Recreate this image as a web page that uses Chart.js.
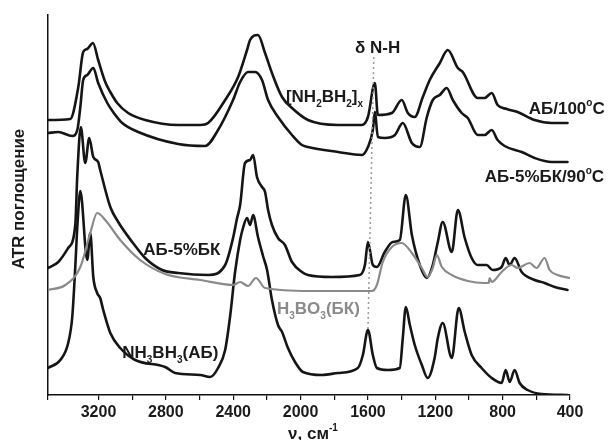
<!DOCTYPE html>
<html><head><meta charset="utf-8">
<script src="https://cdn.jsdelivr.net/npm/chart.js@4/dist/chart.umd.min.js"></script>
<style>html,body{margin:0;padding:0;background:#fff;}#wrap{width:613px;height:440px;}</style>
</head><body><div id="wrap"><canvas id="c" width="613" height="440"></canvas></div>
<script>
// ---- data: [wavenumber (cm-1), ATR absorbance (offset, arb. units)] ----
const xTickLabels = [3200, 2800, 2400, 2000, 1600, 1200, 800, 400];

const ab100 = [[3500,275],[3368,276],[3320,308],[3291,343],[3267,346],[3233,352],[3202,335],[3160,313],[3130,303],[3089,292],[3024,282],[2923,275],[2727,270],[2596,270],[2549,272],[2448,295],[2371,318],[2318,345],[2300,355],[2253,360],[2211,342],[2170,322],[2110,298],[2051,287],[1956,275],[1778,270],[1636,270],[1600,278],[1559,312],[1541,280],[1458,282],[1399,295],[1363,282],[1322,278],[1274,298],[1233,315],[1173,332],[1126,345],[1066,327],[1037,323],[948,297],[907,297],[865,302],[830,290],[776,286],[711,283],[610,275],[509,272],[415,272]];

const ab5bk90 = [[3500,262],[3439,263],[3356,259],[3326,265],[3308,288],[3291,315],[3267,320],[3231,327],[3202,312],[3148,292],[3113,283],[3059,272],[2964,263],[2727,251],[2567,249],[2490,265],[2401,295],[2359,313],[2312,323],[2270,323],[2229,315],[2193,295],[2134,278],[2051,260],[1992,250],[1956,248],[1778,243],[1636,240],[1600,248],[1571,265],[1559,283],[1541,258],[1500,257],[1440,260],[1393,272],[1339,252],[1292,248],[1250,278],[1215,295],[1173,300],[1132,307],[1096,295],[1043,282],[1007,277],[948,260],[907,260],[865,265],[830,255],[788,249],[687,243],[610,237],[509,233],[415,233]];

const ab5bk = [[3500,127],[3439,133],[3380,147],[3338,170],[3326,220],[3305,268],[3279,232],[3255,257],[3231,238],[3202,233],[3190,225],[3130,188],[3083,173],[3000,153],[2923,137],[2822,125],[2727,122],[2549,120],[2448,130],[2401,157],[2377,177],[2359,190],[2330,232],[2300,235],[2282,240],[2259,218],[2229,208],[2211,203],[2193,185],[2170,170],[2134,157],[2093,150],[2051,133],[1992,123],[1956,120],[1814,118],[1648,120],[1618,130],[1600,153],[1571,130],[1547,128],[1500,143],[1453,153],[1411,155],[1375,200],[1339,160],[1292,130],[1250,117],[1215,130],[1185,153],[1156,173],[1102,143],[1066,185],[1025,157],[984,137],[948,130],[895,130],[860,125],[806,128],[782,137],[758,130],[729,137],[687,123],[610,115],[551,112],[491,108],[415,105]];

const h3bo3 = [[3500,105],[3397,110],[3308,128],[3249,162],[3208,182],[3160,175],[3071,155],[2953,135],[2804,121],[2596,115],[2401,110],[2359,113],[2312,109],[2265,117],[2211,107],[1944,104],[1577,104],[1547,110],[1512,133],[1458,148],[1399,152],[1339,142],[1280,127],[1245,118],[1215,127],[1191,140],[1161,128],[1102,120],[1007,114],[907,112],[883,112],[877,117],[865,113],[806,123],[747,130],[711,127],[640,132],[599,127],[551,137],[521,125],[474,120],[403,117]];

const nh3bh3 = [[3500,27],[3427,35],[3380,52],[3356,78],[3338,128],[3326,168],[3308,204],[3267,135],[3249,162],[3231,118],[3208,102],[3190,97],[3172,85],[3130,62],[3071,47],[2982,35],[2804,28],[2745,22],[2596,20],[2537,18],[2490,27],[2448,45],[2419,78],[2389,123],[2359,155],[2342,167],[2318,177],[2300,170],[2282,180],[2253,158],[2223,139],[2199,125],[2170,95],[2134,70],[2110,63],[2075,47],[2033,33],[1986,23],[1873,20],[1778,22],[1660,27],[1630,40],[1600,65],[1571,40],[1547,27],[1482,25],[1411,27],[1393,57],[1375,88],[1351,70],[1322,50],[1280,30],[1245,17],[1204,37],[1185,57],[1156,72],[1102,37],[1061,87],[1025,63],[984,40],[925,27],[865,17],[806,12],[782,25],[758,13],[729,25],[699,12],[652,5],[569,1],[415,0]];

const nhBendGuide = [[1565,338],[1600,65]];

// ---- labels (anchored in data space) ----
const FONT = '"Liberation Sans", Arial, sans-serif';
const labels = [
  {wn:1677, y:342, color:'#1a1a1a', parts:[['δ N-H']]},
  {wn:2087, y:293, color:'#1a1a1a', parts:[['[NH'],['2','sub'],['BH'],['2','sub'],[']'],['x','sub']]},
  {wn:645,  y:281, color:'#1a1a1a', parts:[['АБ/100'],['o','sup'],['C']]},
  {wn:906,  y:213, color:'#1a1a1a', parts:[['АБ-5%БК/90'],['o','sup'],['C']]},
  {wn:2935, y:140, color:'#1a1a1a', parts:[['АБ-5%БК']]},
  {wn:2140, y:81,  color:'#8a8a8a', parts:[['H'],['3','sub'],['BO'],['3','sub'],['(БК)']]},
  {wn:3059, y:37,  color:'#1a1a1a', parts:[['NH'],['3','sub'],['BH'],['3','sub'],['(АБ)']]}
];

const toXY = arr => arr.map(p => ({x:p[0], y:p[1]}));

function richWidth(ctx, parts, size){
  let w = 0;
  for (const [t,m] of parts){
    const s = m ? Math.round(size*0.6) : size;
    ctx.font = `bold ${s}px ${FONT}`;
    w += ctx.measureText(t).width;
  }
  return w;
}
function drawRich(ctx, x, y, parts, size){
  let cx = x;
  for (const [t,m] of parts){
    const s = m ? Math.round(size*0.6) : size;
    ctx.font = `bold ${s}px ${FONT}`;
    const dy = m==='sub' ? size*0.28 : (m==='sup' ? -size*0.45 : 0);
    ctx.fillText(t, cx, y+dy);
    cx += ctx.measureText(t).width;
  }
}

const textPlugin = {
  id:'texts',
  afterDraw(chart){
    const ctx = chart.ctx, xs = chart.scales.x, ys = chart.scales.y, ca = chart.chartArea;
    ctx.save();
    ctx.textAlign = 'left';
    ctx.textBaseline = 'alphabetic';
    for (const L of labels){
      ctx.fillStyle = L.color;
      drawRich(ctx, xs.getPixelForValue(L.wn), ys.getPixelForValue(L.y), L.parts, 17);
    }
    // x axis title
    ctx.fillStyle = '#1a1a1a';
    const xt = [['ν, см'],['-1','sup']];
    const w = richWidth(ctx, xt, 17);
    drawRich(ctx, (ca.left+ca.right)/2 + 4 - w/2, 439, xt, 17);
    // y axis title
    ctx.translate(19, (ca.top+ca.bottom)/2 - 6);
    ctx.rotate(-Math.PI/2);
    ctx.textAlign = 'center';
    ctx.textBaseline = 'middle';
    ctx.font = `bold 17px ${FONT}`;
    ctx.fillText('ATR поглощение', 0, 0);
    ctx.restore();
  }
};

const black = '#151515', gray = '#8a8a8a';
const line = (data, color, w) => ({data:toXY(data), borderColor:color, borderWidth:w, pointRadius:0, fill:false, cubicInterpolationMode:'monotone', borderJoinStyle:'round', borderCapStyle:'round'});

new Chart(document.getElementById('c'), {
  type:'line',
  data:{datasets:[
    {data:toXY(nhBendGuide), borderColor:'#9a9a9a', borderWidth:1.5, borderDash:[2,3], pointRadius:0, tension:0},
    line(h3bo3, gray, 2.2),
    line(nh3bh3, black, 2.6),
    line(ab5bk, black, 2.6),
    line(ab5bk90, black, 2.6),
    line(ab100, black, 2.6)
  ]},
  options:{
    responsive:false, animation:false, devicePixelRatio:1,
    layout:{padding:{left:0, right:43, top:15, bottom:0}},
    plugins:{legend:{display:false}, tooltip:{enabled:false}},
    scales:{
      x:{type:'linear', reverse:true, min:400, max:3500,
        afterFit(s){ s.height = 45; },
        border:{display:true, color:'#111', width:1.5},
        grid:{drawOnChartArea:false, drawTicks:true, tickLength:5, color:'#111', lineWidth:1.2},
        ticks:{stepSize:200, autoSkip:false, maxRotation:0, padding:3, color:'#1a1a1a',
          font:{family:FONT, size:16, weight:'bold'},
          callback:v => xTickLabels.includes(v) ? String(v) : ''}
      },
      y:{type:'linear', min:0, max:380,
        afterFit(s){ s.width = 48; },
        border:{display:true, color:'#111', width:1.5},
        grid:{drawOnChartArea:false, drawTicks:false},
        ticks:{display:false}
      }
    }
  },
  plugins:[textPlugin]
});
</script>
</body></html>
